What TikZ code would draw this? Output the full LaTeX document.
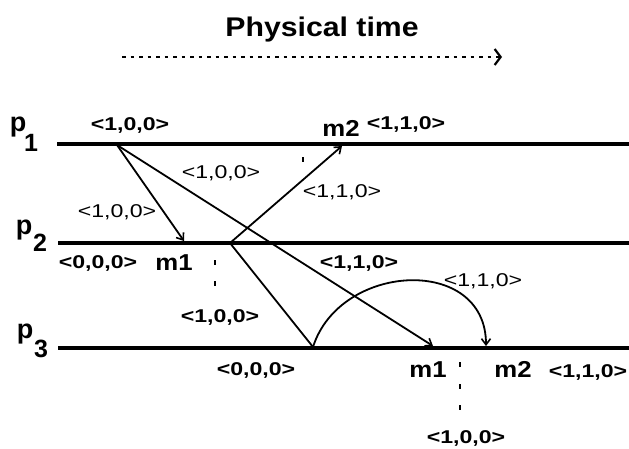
\documentclass[tikz,border=0pt]{standalone}
\usepackage{fontspec}
\setmainfont{Liberation Sans}
\newfontfamily\labfont[FakeStretch=1.25]{Liberation Sans}
\newfontfamily\mfont[FakeStretch=1.12]{Liberation Sans}
\newfontfamily\titlefont[FakeStretch=1.12]{Liberation Sans}
\usetikzlibrary{arrows.meta}
\begin{document}
\begin{tikzpicture}[x=1pt,y=-1pt,
 proc/.style={line width=4.5pt},
 msg/.style={line width=1.8pt, -{Straight Barb[length=6pt,width=9pt,line width=1.6pt]}},
 msgline/.style={line width=1.8pt},
 lb/.style={font=\labfont\bfseries\fontsize{18.5}{18.5}\selectfont, inner sep=0pt, anchor=base},
 lr/.style={font=\labfont\fontsize{18.5}{18.5}\selectfont, inner sep=0pt, anchor=base},
 mlab/.style={font=\mfont\bfseries\fontsize{23}{23}\selectfont, inner sep=0pt, anchor=base},
 plab/.style={font=\bfseries\fontsize{27}{27}\selectfont, inner sep=0pt, anchor=base},
 pnum/.style={font=\bfseries\fontsize{25}{25}\selectfont, inner sep=0pt, anchor=base},
 dotmark/.style={line width=2pt},
 timearrow/.style={line width=2.4pt, dash pattern=on 3.5pt off 5pt, -{Straight Barb[length=6pt,width=16pt,line width=2.2pt]}}
]
\useasboundingbox[fill=white] (0,0) rectangle (629,448);

% title
\node[font=\titlefont\bfseries\fontsize{27}{27}\selectfont, inner sep=0pt, anchor=base] (title) at (322,36) {Physical time};
\coordinate (ta) at (122,57);
\coordinate (tb) at (502,57);
\draw[timearrow] (ta) -- (tb);

% process labels
\node[plab] (p1p) at (18,131) {p};
\node[pnum] (p1n) at (31,151) {1};
\node[plab] (p2p) at (24,234) {p};
\node[pnum] (p2n) at (40,251) {2};
\node[plab] (p3p) at (25,338) {p};
\node[pnum] (p3n) at (41,357) {3};

% process lines
\coordinate (p1s) at (57,144);  \coordinate (p1e) at (629,144);
\coordinate (p2s) at (58,243);  \coordinate (p2e) at (629,243);
\coordinate (p3s) at (58,348);  \coordinate (p3e) at (629,348);
\draw[proc] (p1s) -- (p1e);
\draw[proc] (p2s) -- (p2e);
\draw[proc] (p3s) -- (p3e);

% events
\coordinate (e1) at (117,145);
\coordinate (r1) at (184,241);
\coordinate (s2) at (230,243);
\coordinate (r2) at (342,146);
\coordinate (v)  at (313,347);
\coordinate (r3) at (433,346);
\coordinate (r4) at (486,346);

% messages
\draw[msg] (e1) -- (r1);
\draw[msg] (e1) -- (r3);
\draw[msg] (s2) -- (r2);
\draw[msgline] (s2) -- (v);
\draw[msg] (v) .. controls (340,262) and (486,255) .. (r4);

% dots
\coordinate (d1) at (215,262); \coordinate (d2) at (215,283);
\coordinate (d3) at (303,159);
\coordinate (d4) at (460,364); \coordinate (d5) at (460,386); \coordinate (d6) at (460,407);
\foreach \d in {d1,d2,d3,d4,d5,d6}{
  \draw[dotmark] ([yshift=-2.5pt]\d) -- ([yshift=2.5pt]\d);
}

% labels
\node[lb] (l1) at (130,130) {<1,0,0>};
\node[lr] (l2) at (117,217) {<1,0,0>};
\node[lr] (l3) at (221,178) {<1,0,0>};
\node[lr] (l4) at (342,197) {<1,1,0>};
\node[mlab] (m2a) at (341,136) {m2};
\node[lb] (l5) at (406,129) {<1,1,0>};
\node[lb] (l6) at (98,268) {<0,0,0>};
\node[mlab] (m1a) at (174,270) {m1};
\node[lb] (l7) at (359,268) {<1,1,0>};
\node[lb] (l8) at (220,322) {<1,0,0>};
\node[lr] (l9) at (483,286) {<1,1,0>};
\node[lb] (l10) at (256,375) {<0,0,0>};
\node[mlab] (m1b) at (428,377) {m1};
\node[mlab] (m2b) at (513,377) {m2};
\node[lb] (l11) at (588,377) {<1,1,0>};
\node[lb] (l12) at (466,443) {<1,0,0>};
\end{tikzpicture}
\end{document}
